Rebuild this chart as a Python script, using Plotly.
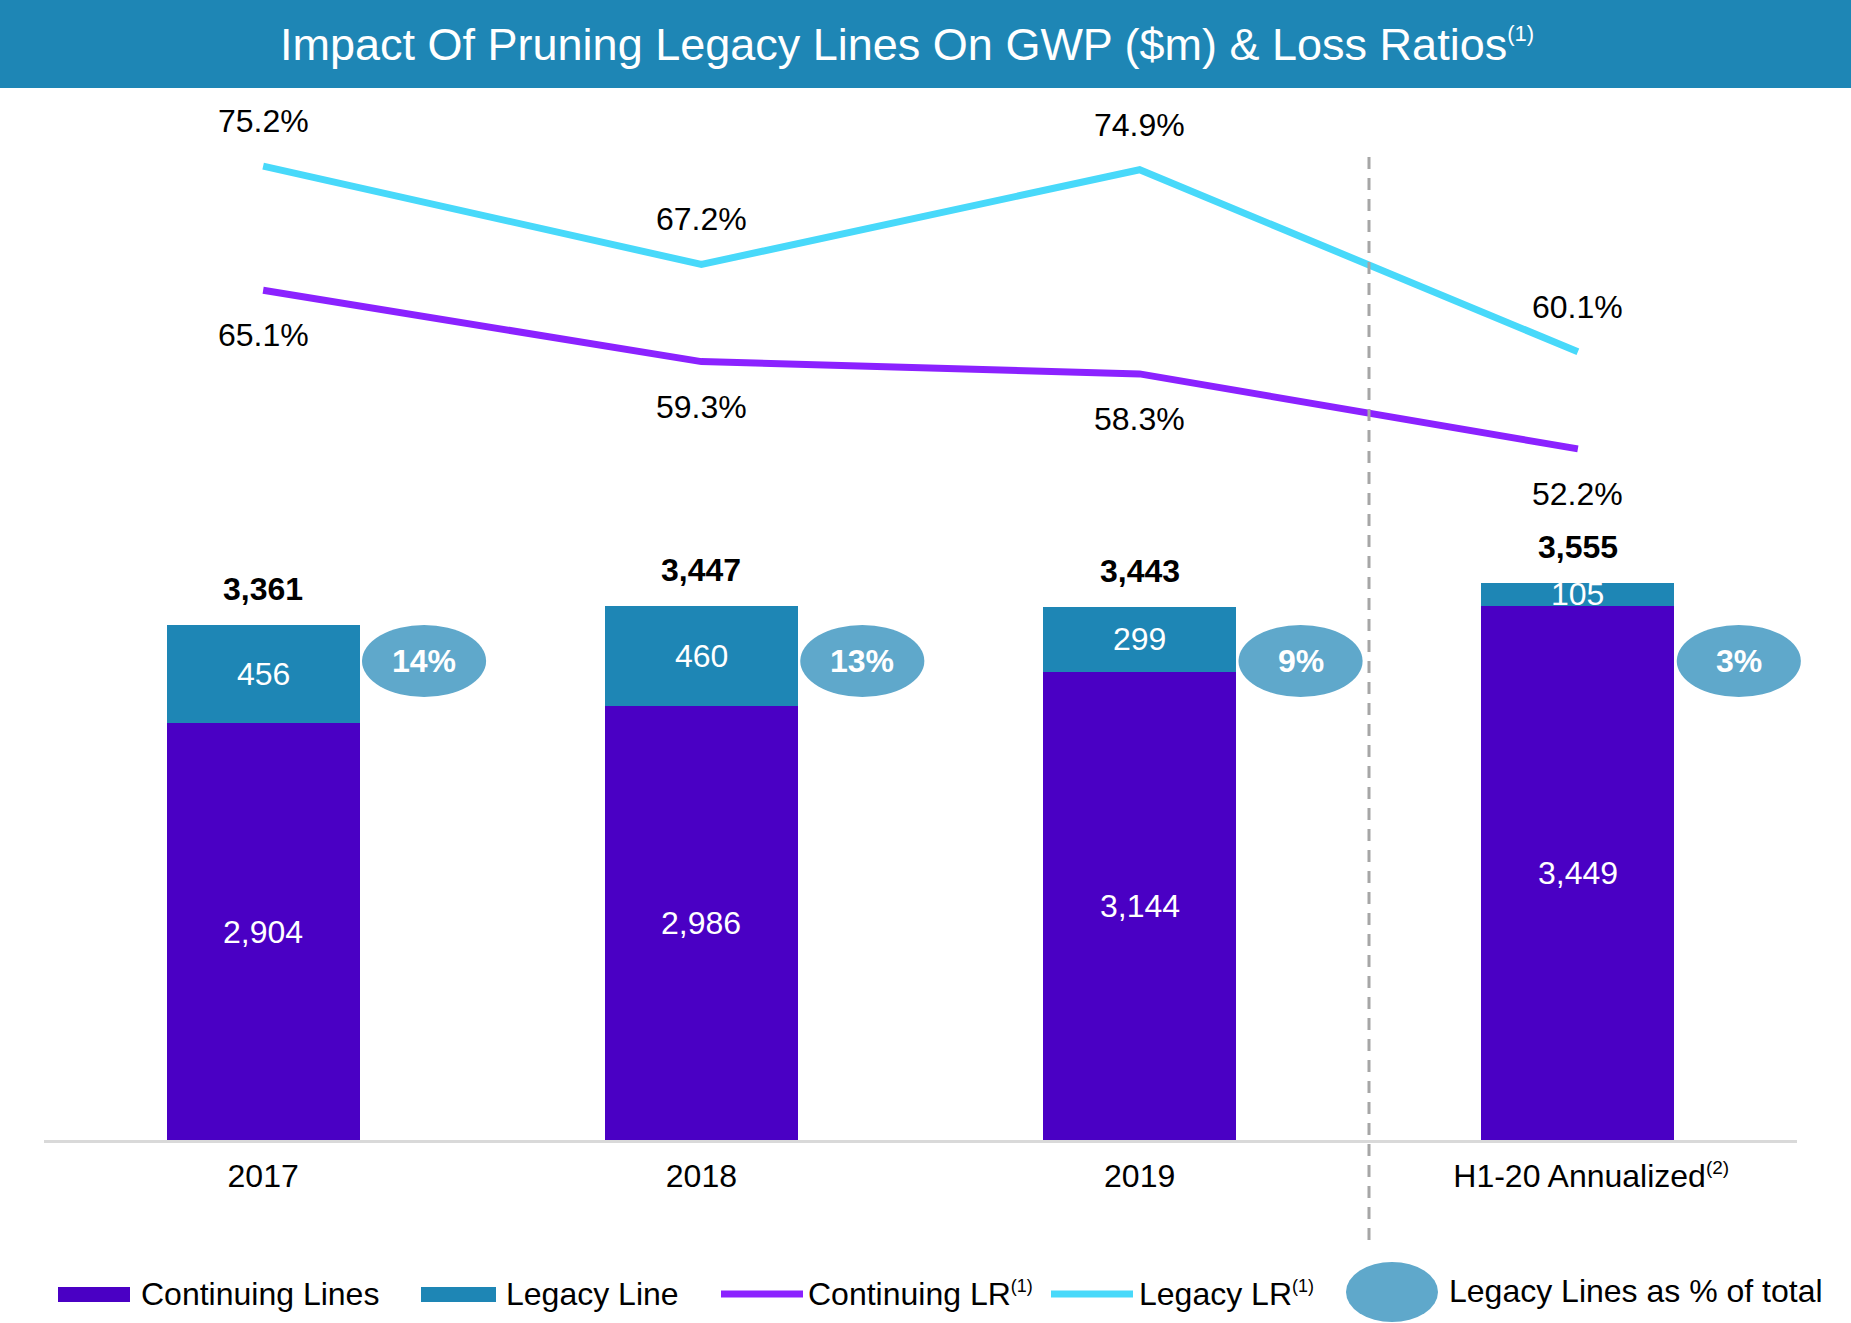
import plotly.graph_objects as go

# ---------------- data ----------------
categories = ["2017", "2018", "2019", "H1-20 Annualized"]
tick_labels = ["2017", "2018", "2019",
               "&nbsp;&nbsp;&nbsp;H1-20 Annualized<sup><span style='font-size:19px'>(2)</span></sup>"]
continuing_lines = [2904, 2986, 3144, 3449]
legacy_line = [456, 460, 299, 105]
totals = [3361, 3447, 3443, 3555]
continuing_lr = [65.1, 59.3, 58.3, 52.2]
legacy_lr = [75.2, 67.2, 74.9, 60.1]

# ---------------- styling ----------------
FONT = "Arial, 'Liberation Sans', sans-serif"
C_CONT = "#4A00C4"
C_LEG = "#1E86B5"
C_CONT_LR = "#8B22FF"
C_LEG_LR = "#48D9FA"
C_ELL = "#5FA8CB"

W, H = 1851, 1323
L, R, T, B = 44, 1797, 100, 1140   # plot area in pixels
Y1_MIN, Y1_MAX = 975, 5790
Y2_MIN, Y2_MAX = -3.99, 80.57


def px(x):
    return (x - L) / (R - L)


def py(y):
    return (B - y) / (B - T)


def cat_paper(i):
    return (i + 0.5) / len(categories)


fig = go.Figure()

fig.add_trace(go.Bar(x=categories, y=continuing_lines, name="Continuing Lines",
                     marker=dict(color=C_CONT, line=dict(width=0)), width=0.44,
                     textposition="none", hoverinfo="y"))
fig.add_trace(go.Bar(x=categories, y=legacy_line, name="Legacy Line",
                     marker=dict(color=C_LEG, line=dict(width=0)), width=0.44,
                     textposition="none", hoverinfo="y"))
fig.add_trace(go.Scatter(x=categories, y=continuing_lr, name="Continuing LR", yaxis="y2",
                         mode="lines", line=dict(color=C_CONT_LR, width=7)))
fig.add_trace(go.Scatter(x=categories, y=legacy_lr, name="Legacy LR", yaxis="y2",
                         mode="lines", line=dict(color=C_LEG_LR, width=7)))

annotations = []
shapes = []

for i, cat in enumerate(categories):
    c, lg, t = continuing_lines[i], legacy_line[i], totals[i]
    # continuing value (middle of visible part)
    annotations.append(dict(x=i, y=(Y1_MIN + c) / 2, xref="x", yref="y",
                            text=f"{c:,}", showarrow=False,
                            font=dict(family=FONT, size=32, color="white")))
    # legacy value
    annotations.append(dict(x=i, y=c + lg / 2, xref="x", yref="y",
                            text=f"{lg:,}", showarrow=False,
                            font=dict(family=FONT, size=32, color="white")))
    # total
    annotations.append(dict(x=i, y=c + lg, xref="x", yref="y", yshift=36,
                            text=f"<b>{t:,}</b>", showarrow=False,
                            font=dict(family=FONT, size=32, color="black")))
    # LR labels
    annotations.append(dict(x=i, y=legacy_lr[i], xref="x", yref="y2", yshift=45,
                            text=f"{legacy_lr[i]:.1f}%", showarrow=False,
                            font=dict(family=FONT, size=32, color="black")))
    annotations.append(dict(x=i, y=continuing_lr[i], xref="x", yref="y2", yshift=-45,
                            text=f"{continuing_lr[i]:.1f}%", showarrow=False,
                            font=dict(family=FONT, size=32, color="black")))
    # ellipse with legacy share
    ex = cat_paper(i) + 0.0918
    shapes.append(dict(type="circle", xref="paper", yref="paper",
                       x0=ex - 0.0354, x1=ex + 0.0354,
                       y0=py(661) - 0.0346, y1=py(661) + 0.0346,
                       fillcolor=C_ELL, line=dict(width=0), layer="above"))
    annotations.append(dict(x=ex, y=py(661), xref="paper", yref="paper",
                            xanchor="center", yanchor="middle",
                            text=f"<b>{round(100 * lg / t)}%</b>", showarrow=False,
                            font=dict(family=FONT, size=32, color="white")))

# title bar
shapes.append(dict(type="rect", xref="paper", yref="paper",
                   x0=px(0), x1=px(W), y0=py(88), y1=py(0),
                   fillcolor=C_LEG, line=dict(width=0), layer="above"))
annotations.append(dict(x=px(907), y=py(45), xref="paper", yref="paper",
                        text="Impact Of Pruning Legacy Lines On GWP ($m) & Loss Ratios"
                             "<sup><span style='font-size:22px'>(1)</span></sup>",
                        showarrow=False, xanchor="center", yanchor="middle",
                        font=dict(family=FONT, size=45, color="white")))

# dashed separator
shapes.append(dict(type="line", xref="paper", yref="paper",
                   x0=px(1369), x1=px(1369), y0=py(157), y1=py(1240),
                   line=dict(color="#A6A6A6", width=3, dash="12px,9px"), layer="above"))

# custom legend
LEG_Y = 1294
legend_font = dict(family=FONT, size=32, color="black")
shapes.append(dict(type="rect", xref="paper", yref="paper", x0=px(58), x1=px(130),
                   y0=py(1302), y1=py(1287), fillcolor=C_CONT, line=dict(width=0)))
annotations.append(dict(x=px(139), y=py(LEG_Y), xref="paper", yref="paper", xanchor="left",
                        yanchor="middle", text="Continuing Lines", showarrow=False, font=legend_font))
shapes.append(dict(type="rect", xref="paper", yref="paper", x0=px(421), x1=px(496),
                   y0=py(1302), y1=py(1287), fillcolor=C_LEG, line=dict(width=0)))
annotations.append(dict(x=px(504), y=py(LEG_Y), xref="paper", yref="paper", xanchor="left",
                        yanchor="middle", text="Legacy Line", showarrow=False, font=legend_font))
shapes.append(dict(type="line", xref="paper", yref="paper", x0=px(721), x1=px(803),
                   y0=py(LEG_Y), y1=py(LEG_Y), line=dict(color=C_CONT_LR, width=7)))
annotations.append(dict(x=px(806), y=py(LEG_Y), xref="paper", yref="paper", xanchor="left",
                        yanchor="middle",
                        text="Continuing LR<sup><span style='font-size:18px'>(1)</span></sup>",
                        showarrow=False, font=legend_font))
shapes.append(dict(type="line", xref="paper", yref="paper", x0=px(1051), x1=px(1133),
                   y0=py(LEG_Y), y1=py(LEG_Y), line=dict(color=C_LEG_LR, width=7)))
annotations.append(dict(x=px(1137), y=py(LEG_Y), xref="paper", yref="paper", xanchor="left",
                        yanchor="middle",
                        text="Legacy LR<sup><span style='font-size:18px'>(1)</span></sup>",
                        showarrow=False, font=legend_font))
shapes.append(dict(type="circle", xref="paper", yref="paper", x0=px(1346), x1=px(1438),
                   y0=py(1322), y1=py(1262), fillcolor=C_ELL, line=dict(width=0)))
annotations.append(dict(x=px(1447), y=py(1291), xref="paper", yref="paper", xanchor="left",
                        yanchor="middle", text="Legacy Lines as % of total",
                        showarrow=False, font=legend_font))

fig.update_layout(
    width=W, height=H,
    margin=dict(l=L, r=W - R, t=T, b=H - B, pad=0),
    paper_bgcolor="white", plot_bgcolor="white",
    barmode="stack", showlegend=False,
    font=dict(family=FONT, size=32, color="black"),
    xaxis=dict(type="category", range=[-0.5, 3.5], tickmode="array",
               tickvals=categories, ticktext=tick_labels,
               showline=True, linecolor="#D9D9D9", linewidth=3,
               showgrid=False, zeroline=False, ticks="", ticklabelstandoff=6,
               tickfont=dict(family=FONT, size=32, color="black")),
    yaxis=dict(range=[Y1_MIN, Y1_MAX], visible=False, showgrid=False, zeroline=False),
    yaxis2=dict(range=[Y2_MIN, Y2_MAX], overlaying="y", side="right", visible=False,
                showgrid=False, zeroline=False),
    annotations=annotations, shapes=shapes,
)

fig.write_html("out.html", config={"displayModeBar": False},
               post_script="document.body.style.margin='0';document.body.style.overflow='hidden';")
